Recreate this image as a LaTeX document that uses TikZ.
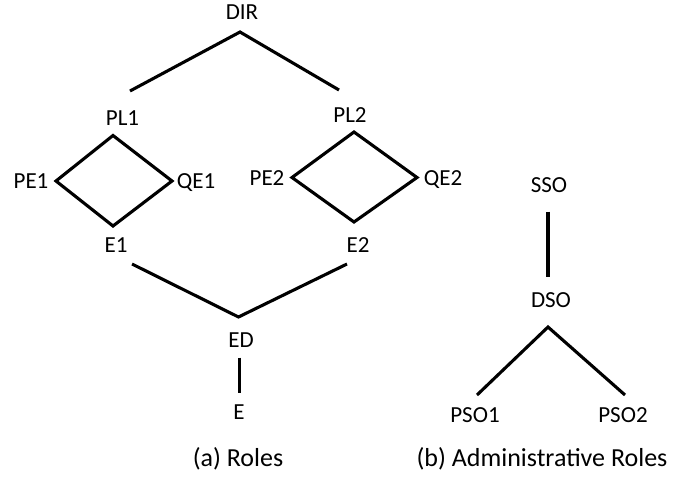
\documentclass[tikz,border=0pt]{standalone}
\usepackage{fontspec}
\setmainfont{Carlito}
\begin{document}
\begin{tikzpicture}[x=1pt,y=-1pt,
  role/.style={anchor=base,inner sep=0pt,font=\fontsize{23}{27}\selectfont},
  caption/.style={anchor=base,inner sep=0pt,font=\fontsize{26}{30}\selectfont},
  link/.style={line width=3.1pt,black}]
\useasboundingbox (0,0) rectangle (675,480);

% role labels
\node[role] (dir)  at (242,19.5) {DIR};
\node[role] (pl1)  at (122.5,125) {PL1};
\node[role] (pe1)  at (31,188) {PE1};
\node[role] (qe1)  at (196,188) {QE1};
\node[role] (e1)   at (116,252) {E1};
\node[role] (pl2)  at (350,122) {PL2};
\node[role] (pe2)  at (267,185) {PE2};
\node[role] (qe2)  at (443,185) {QE2};
\node[role] (e2)   at (358,252) {E2};
\node[role] (ed)   at (241,347) {ED};
\node[role] (e)    at (239,419) {E};

% administrative role labels
\node[role] (sso)  at (549,192) {SSO};
\node[role] (dso)  at (551,307) {DSO};
\node[role] (pso1) at (475,422) {PSO1};
\node[role] (pso2) at (623,422) {PSO2};

% captions
\node[caption] (capa) at (238,466) {(a) Roles};
\node[caption] (capb) at (542,466) {(b) Administrative Roles};

% line end points
\coordinate (dirTop)  at (240,32);
\coordinate (dirL)    at (130,91);
\coordinate (dirR)    at (339,90);
\coordinate (t1) at (113,135.5);
\coordinate (l1) at (56,181);
\coordinate (r1) at (172,181);
\coordinate (b1) at (113,226);
\coordinate (t2) at (354,132);
\coordinate (l2) at (292,177.5);
\coordinate (r2) at (417,177.5);
\coordinate (b2) at (354,222);
\coordinate (mL)  at (132,264);
\coordinate (mC)  at (238.5,317);
\coordinate (mR)  at (347,264);
\coordinate (edT) at (239.5,357.5);
\coordinate (edB) at (239.5,393);
\coordinate (ssoT) at (548,211.5);
\coordinate (ssoB) at (548,277);
\coordinate (dsoT) at (548,327);
\coordinate (dsoL) at (477,395);
\coordinate (dsoR) at (625,395);

% role hierarchy
\draw[link] (dirL) -- (dirTop) -- (dirR);
\draw[link] (t1) -- (r1) -- (b1) -- (l1) -- cycle;
\draw[link] (t2) -- (r2) -- (b2) -- (l2) -- cycle;
\draw[link] (mL) -- (mC) -- (mR);
\draw[link] (edT) -- (edB);

% administrative hierarchy
\draw[link] (ssoT) -- (ssoB);
\draw[link] (dsoL) -- (dsoT) -- (dsoR);
\end{tikzpicture}
\end{document}
